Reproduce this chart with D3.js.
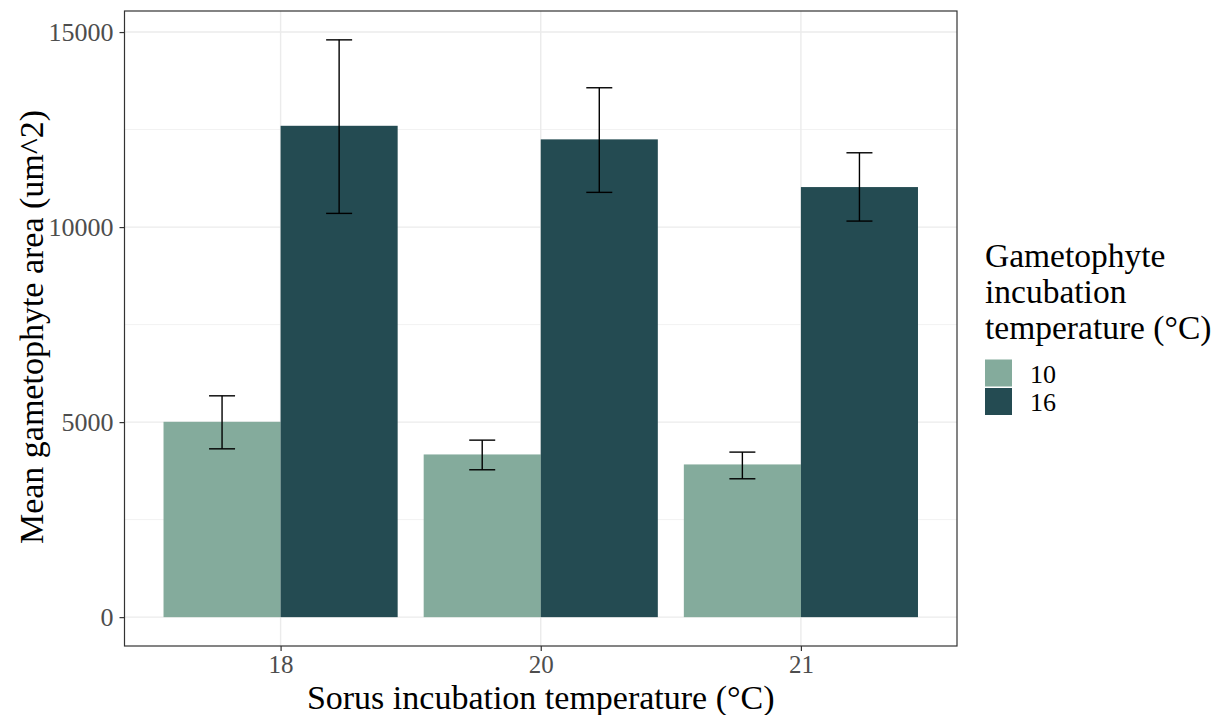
<!DOCTYPE html>
<html>
<head>
<meta charset="utf-8">
<script src="https://cdn.jsdelivr.net/npm/d3@7"></script>
<style>
  body { margin: 0; background: #fff; }
  text { font-family: "Liberation Serif", "Times New Roman", serif; }
</style>
</head>
<body>
<svg id="chart" width="1228" height="715"></svg>
<script>
// data
const sorusTemps = ["18", "20", "21"];
const gameTemps = ["10", "16"];
const means10 = [5008, 4171, 3915];
const lower10 = [4315, 3778, 3547];
const upper10 = [5674, 4538, 4231];
const means16 = [12597, 12249, 11026];
const lower16 = [10351, 10890, 10154];
const upper16 = [14800, 13572, 11905];
const yTicks = [0, 5000, 10000, 15000];
const yMinor = [2500, 7500, 12500];

const data = [];
sorusTemps.forEach((s, i) => {
    data.push({ sorus: s, game: "10", value: means10[i], lo: lower10[i], hi: upper10[i] });
    data.push({ sorus: s, game: "16", value: means16[i], lo: lower16[i], hi: upper16[i] });
});

const svg = d3.select("#chart");
const margin = { top: 11, right: 271, bottom: 69, left: 124.5 };
const width = 1228 - margin.left - margin.right;
const height = 715 - margin.top - margin.bottom;

const chart = svg.append("g")
    .attr("transform", `translate(${margin.left},${margin.top})`);

// ggplot-like expansion: 5% on y, 0.6 units on discrete x
const yMax = d3.max(data, d => d.hi);
const y = d3.scaleLinear()
    .domain([-0.05 * yMax, yMax * 1.05])
    .range([height, 0]);

const x = d3.scalePoint()
    .domain(sorusTemps)
    .range([0, width])
    .padding(0.6);
const groupW = x.step() * 0.9;

const colorScale = d3.scaleOrdinal()
    .domain(gameTemps)
    .range(["#84ab9c", "#244b52"]);

// grid
chart.selectAll(".minor")
    .data(yMinor)
    .enter().append("line")
    .attr("x1", 0).attr("x2", width)
    .attr("y1", d => y(d)).attr("y2", d => y(d))
    .attr("stroke", "#f2f2f2").attr("stroke-width", 1);

chart.selectAll(".major")
    .data(yTicks)
    .enter().append("line")
    .attr("x1", 0).attr("x2", width)
    .attr("y1", d => y(d)).attr("y2", d => y(d))
    .attr("stroke", "#ebebeb").attr("stroke-width", 1.4);

chart.selectAll(".vgrid")
    .data(sorusTemps)
    .enter().append("line")
    .attr("x1", d => x(d)).attr("x2", d => x(d))
    .attr("y1", 0).attr("y2", height)
    .attr("stroke", "#ebebeb").attr("stroke-width", 1.4);

// bars
const sub = d3.scaleBand()
    .domain(gameTemps)
    .range([-groupW / 2, groupW / 2]);

chart.selectAll(".bar")
    .data(data)
    .enter().append("rect")
    .attr("x", d => x(d.sorus) + sub(d.game))
    .attr("y", d => y(d.value))
    .attr("width", sub.bandwidth())
    .attr("height", d => y(0) - y(d.value))
    .attr("fill", d => colorScale(d.game));

// error bars
const capW = 26;
const eb = chart.selectAll(".err")
    .data(data)
    .enter().append("g")
    .attr("transform", d => `translate(${x(d.sorus) + sub(d.game) + sub.bandwidth() / 2},0)`);

eb.append("line")
    .attr("y1", d => y(d.lo)).attr("y2", d => y(d.hi))
    .attr("stroke", "#000").attr("stroke-width", 1.4);
eb.append("line")
    .attr("x1", -capW / 2).attr("x2", capW / 2)
    .attr("y1", d => y(d.hi)).attr("y2", d => y(d.hi))
    .attr("stroke", "#000").attr("stroke-width", 1.4);
eb.append("line")
    .attr("x1", -capW / 2).attr("x2", capW / 2)
    .attr("y1", d => y(d.lo)).attr("y2", d => y(d.lo))
    .attr("stroke", "#000").attr("stroke-width", 1.4);

// axes
const yAxis = chart.append("g")
    .call(d3.axisLeft(y).tickValues(yTicks).tickSize(5).tickPadding(6).tickFormat(d3.format("d")));
const xAxis = chart.append("g")
    .attr("transform", `translate(0,${height})`)
    .call(d3.axisBottom(x).tickSize(5).tickPadding(4.5));

[yAxis, xAxis].forEach(a => {
    a.select(".domain").remove();
    a.selectAll(".tick line").attr("stroke", "#333").attr("stroke-width", 1.2);
    a.selectAll(".tick text")
        .attr("fill", "#4d4d4d")
        .style("font-size", "26px")
        .style("font-family", "'Liberation Serif', serif");
});
yAxis.selectAll(".tick text").attr("dy", "0.34em");
xAxis.selectAll(".tick text").style("font-size", "25px");

// panel border
chart.append("rect")
    .attr("width", width).attr("height", height)
    .attr("fill", "none")
    .attr("stroke", "#333").attr("stroke-width", 1.2);

// axis titles
svg.append("text")
    .attr("x", margin.left + width / 2)
    .attr("y", 709)
    .attr("text-anchor", "middle")
    .style("font-size", "34px")
    .text("Sorus incubation temperature (°C)");

svg.append("text")
    .attr("transform", `translate(43,327) rotate(-90)`)
    .attr("text-anchor", "middle")
    .style("font-size", "34px")
    .text("Mean gametophyte area (um^2)");

// legend
const legend = svg.append("g")
    .attr("transform", "translate(985,0)");

["Gametophyte", "incubation", "temperature (°C)"].forEach((t, i) => {
    legend.append("text")
        .attr("x", 0)
        .attr("y", 267 + i * 36)
        .style("font-size", "33.5px")
        .text(t);
});

gameTemps.forEach((g, i) => {
    const row = legend.append("g")
        .attr("transform", `translate(0, ${359.5 + i * 28.5})`);
    row.append("rect")
        .attr("width", 27)
        .attr("height", 27)
        .attr("fill", colorScale(g));
    row.append("text")
        .attr("x", 45)
        .attr("y", 23)
        .style("font-size", "26px")
        .text(g);
});
</script>
</body>
</html>
